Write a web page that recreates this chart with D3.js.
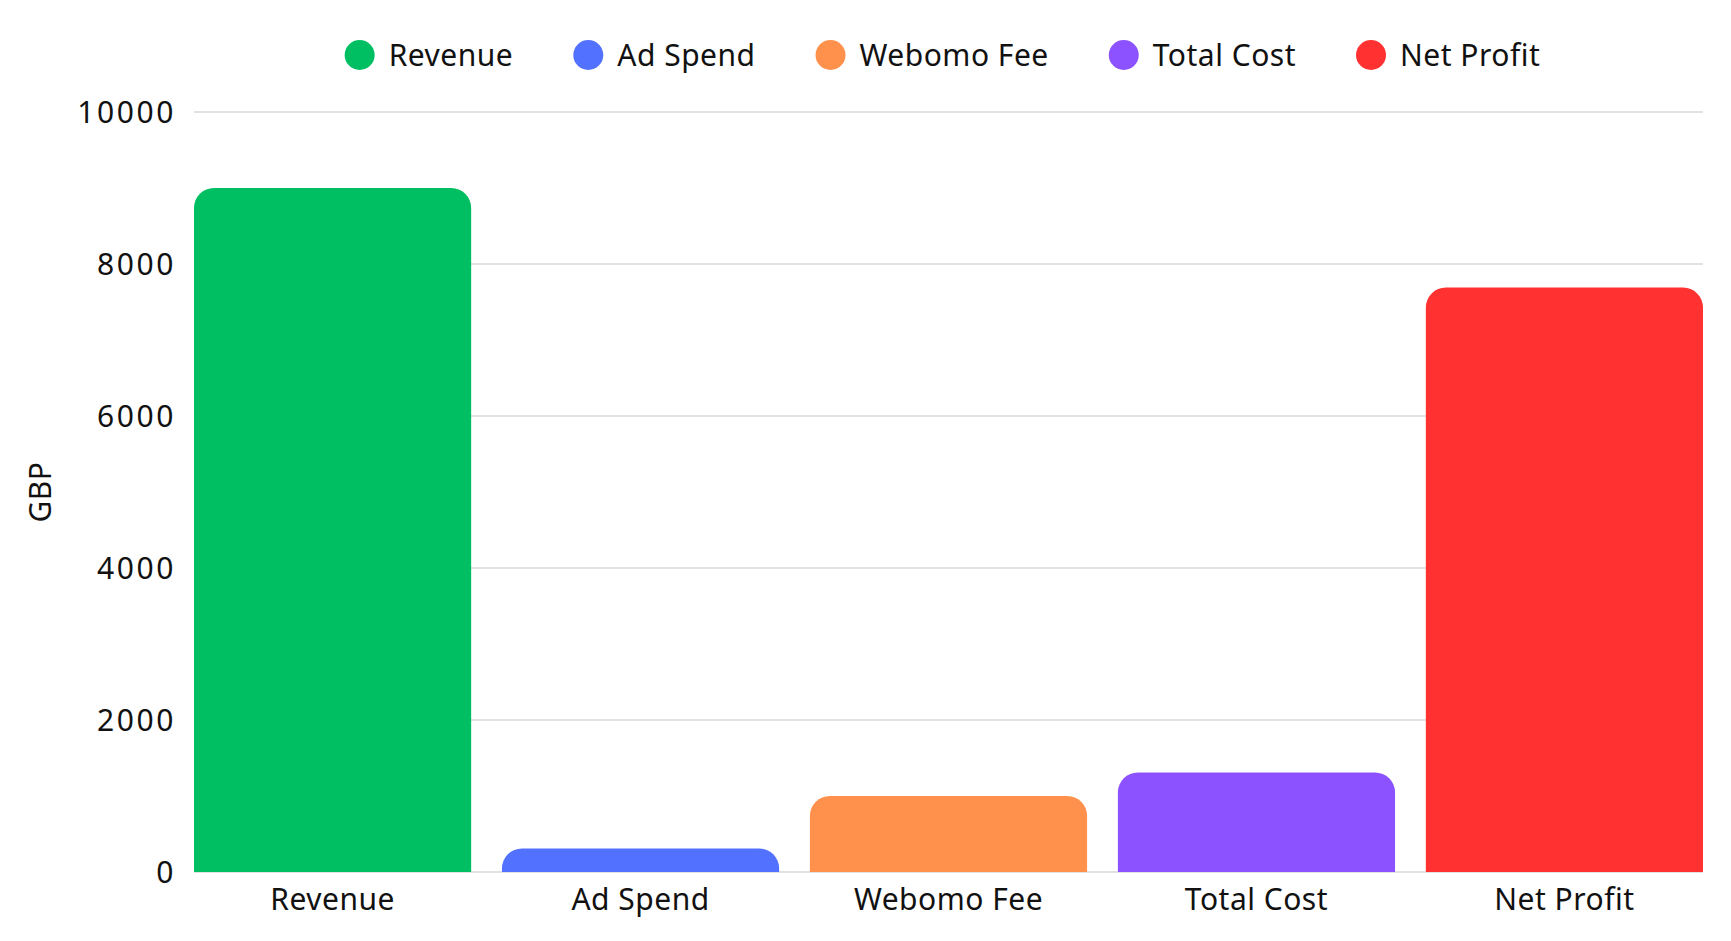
<!DOCTYPE html>
<html>
<head>
<meta charset="utf-8">
<script src="https://cdn.jsdelivr.net/npm/d3@7"></script>
<style>
  html, body { margin: 0; padding: 0; background: #fff; }
  svg { display: block; font-family: "Noto Sans", sans-serif; }
</style>
</head>
<body>
<div id="chart"></div>
<script>
// values (GBP)
const categories = ["Revenue", "Ad Spend", "Webomo Fee", "Total Cost", "Net Profit"];
const values = [9000, 310, 1000, 1310, 7690];
const colors = ["#00BF63", "#5271FF", "#FF914D", "#8C52FF", "#FF3131"];
const yTicks = [0, 2000, 4000, 6000, 8000, 10000];

const width = 1731, height = 941;
const margin = {top: 112, right: 28, bottom: 69, left: 194};

const svg = d3.select("#chart").append("svg")
    .attr("width", width)
    .attr("height", height);

const x = d3.scaleBand()
    .domain(categories)
    .range([margin.left, width - margin.right])
    .paddingInner(0.1)
    .paddingOuter(0);

const y = d3.scaleLinear()
    .domain([0, 10000])
    .range([height - margin.bottom, margin.top]);

// grid lines (behind the bars)
svg.append("g")
  .selectAll("line")
  .data(yTicks)
  .enter().append("line")
    .attr("x1", margin.left)
    .attr("x2", width - margin.right)
    .attr("y1", d => y(d))
    .attr("y2", d => y(d))
    .attr("stroke", "#d9d9d9")
    .attr("stroke-width", 1.5);

// y tick labels (digits in the original are a bit wider)
svg.append("g")
  .selectAll("text")
  .data(yTicks)
  .enter().append("text")
    .attr("x", 176)
    .attr("y", d => y(d))
    .attr("dy", "0.36em")
    .attr("text-anchor", "end")
    .style("font-size", "30px")
    .style("letter-spacing", "2.6px")
    .attr("fill", "#111")
    .text(d => d);

// axis title
svg.append("text")
  .attr("transform", "translate(40," + (y(5000)) + ")rotate(-90)")
  .attr("dy", "0.36em")
  .attr("text-anchor", "middle")
  .style("font-size", "30px")
  .style("letter-spacing", "0.5px")
  .attr("fill", "#111")
  .text("GBP");

// bar with rounded top corners
function topRounded(x0, y0, w, h, r) {
  r = Math.min(r, h, w / 2);
  const p = d3.path();
  p.moveTo(x0, y0 + h);
  p.lineTo(x0, y0 + r);
  p.arcTo(x0, y0, x0 + r, y0, r);
  p.lineTo(x0 + w - r, y0);
  p.arcTo(x0 + w, y0, x0 + w, y0 + r, r);
  p.lineTo(x0 + w, y0 + h);
  p.closePath();
  return p.toString();
}

svg.append("g")
  .selectAll("path")
  .data(categories)
  .enter().append("path")
    .attr("d", (c, i) => topRounded(x(c), y(values[i]), x.bandwidth(), y(0) - y(values[i]), 20))
    .attr("fill", (c, i) => colors[i]);

// category labels
svg.append("g")
  .selectAll("text")
  .data(categories)
  .enter().append("text")
    .attr("x", c => x(c) + x.bandwidth() / 2)
    .attr("y", 910)
    .attr("text-anchor", "middle")
    .style("font-size", "30px")
    .style("letter-spacing", "0.5px")
    .attr("fill", "#111")
    .text(c => c);

// legend, centred over the plot
const gap = 60;
const legend = svg.append("g");
let offset = 0;
categories.forEach((c, i) => {
  const item = legend.append("g").attr("transform", "translate(" + offset + ",0)");
  item.append("circle")
    .attr("cx", 15)
    .attr("cy", 0)
    .attr("r", 15)
    .attr("fill", colors[i]);
  const t = item.append("text")
    .attr("x", 44)
    .attr("dy", "0.36em")
    .style("font-size", "30px")
    .style("letter-spacing", "0.5px")
    .attr("fill", "#111")
    .text(c);
  offset += 44 + t.node().getComputedTextLength() + gap;
});
const legendW = offset - gap;
const mid = (margin.left + width - margin.right) / 2;
legend.attr("transform", "translate(" + (mid - legendW / 2 - 6) + ",55)");
</script>
</body>
</html>
